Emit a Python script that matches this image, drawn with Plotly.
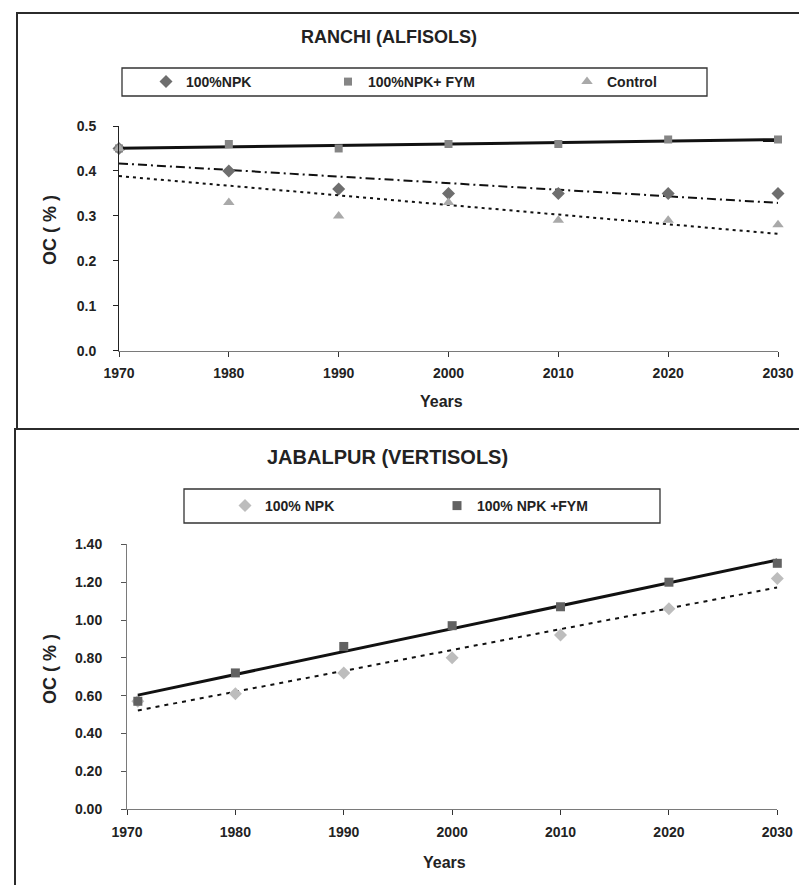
import numpy as np
import plotly.graph_objects as go

W, H = 799, 885

# ---- Ranchi (Alfisols) ----
ranchi_years = [1970, 1980, 1990, 2000, 2010, 2020, 2030]
ranchi_npk = [0.45, 0.40, 0.36, 0.35, 0.35, 0.35, 0.35]
ranchi_npk_fym = [0.45, 0.46, 0.45, 0.46, 0.46, 0.47, 0.47]
ranchi_control = [0.45, 0.33, 0.30, 0.33, 0.29, 0.29, 0.28]
ranchi_yticks = [0.0, 0.1, 0.2, 0.3, 0.4, 0.5]

# ---- Jabalpur (Vertisols) ----
jab_years = [1971, 1980, 1990, 2000, 2010, 2020, 2030]
jab_npk = [0.57, 0.61, 0.72, 0.80, 0.92, 1.06, 1.22]
jab_npk_fym = [0.57, 0.72, 0.86, 0.97, 1.07, 1.20, 1.30]
jab_yticks = [0.0, 0.2, 0.4, 0.6, 0.8, 1.0, 1.2, 1.4]

x_ticks = [1970, 1980, 1990, 2000, 2010, 2020, 2030]

FONT = "Liberation Sans"


def px(x):
    return x / W


def py(y):
    return 1 - y / H


def trend(xs, ys):
    """Least-squares linear trend evaluated at the first and last x."""
    k, b = np.polyfit(xs, ys, 1)
    xe = [xs[0], xs[-1]]
    return xe, [k * v + b for v in xe]


fig = go.Figure()


def add_series(xs, ys, name, symbol, color, size, xa, ya, legend, dash, lw):
    tx, ty = trend(xs, ys)
    fig.add_trace(go.Scatter(
        x=tx, y=ty, mode="lines", line=dict(color="#111111", width=lw, dash=dash),
        xaxis=xa, yaxis=ya, showlegend=False, hoverinfo="skip"))
    fig.add_trace(go.Scatter(
        x=xs, y=ys, mode="markers", name=name,
        marker=dict(symbol=symbol, color=color, size=size, line=dict(width=0)),
        xaxis=xa, yaxis=ya, legend=legend, cliponaxis=False))


# Ranchi panel
add_series(ranchi_years, ranchi_npk, "100%NPK", "diamond", "#6e6e6e", 10,
           "x", "y", "legend", "9px,4px,2px,4px", 2)
add_series(ranchi_years, ranchi_npk_fym, "100%NPK+ FYM", "square", "#858585", 8,
           "x", "y", "legend2", "solid", 3)
add_series(ranchi_years, ranchi_control, "Control", "triangle-up", "#a9a9a9", 10,
           "x", "y", "legend3", "3px,4px", 2)

# Jabalpur panel
add_series(jab_years, jab_npk, "100% NPK", "diamond", "#bdbdbd", 10,
           "x2", "y2", "legend4", "4px,5px", 2)
add_series(jab_years, jab_npk_fym, "100% NPK +FYM", "square", "#626262", 9,
           "x2", "y2", "legend5", "solid", 3)

tickfont = dict(family=FONT, size=14, color="#222222", weight="bold")

axis_common = dict(
    showgrid=False, zeroline=False, ticks="outside", ticklen=5,
    tickfont=tickfont, showline=True, fixedrange=True, automargin=False)

fig.update_layout(
    template="none",
    width=W, height=H,
    margin=dict(l=0, r=0, t=0, b=0, pad=0, autoexpand=False),
    paper_bgcolor="white", plot_bgcolor="white",
    font=dict(family=FONT, color="#222222"),
    xaxis=dict(axis_common, domain=[px(119), px(778)], range=[1970, 2030],
               tickvals=x_ticks, linecolor="#7a7a7a", tickcolor="#333333",
               anchor="y", ticklabelstandoff=4),
    yaxis=dict(axis_common, domain=[py(350.7), py(126)], range=[0, 0.5],
               tickvals=ranchi_yticks, tickformat=".1f", linecolor="#222222",
               tickcolor="#222222", anchor="x", ticklabelstandoff=14),
    xaxis2=dict(axis_common, domain=[px(127), px(777.3)], range=[1970, 2030],
                tickvals=x_ticks, linecolor="#7a7a7a", tickcolor="#333333",
                anchor="y2", ticklabelstandoff=5),
    yaxis2=dict(axis_common, domain=[py(809), py(544.4)], range=[0, 1.4],
                tickvals=jab_yticks, tickformat=".2f", linecolor="#7a7a7a",
                tickcolor="#555555", anchor="x2", ticklabelstandoff=16),
)

# one legend per entry so each key sits at its own place inside the boxes
leg_font = dict(family=FONT, size=14, color="#222222", weight="bold")
legend_pos = {
    "legend": (168, 82),
    "legend2": (350, 82),
    "legend3": (589, 82),
    "legend4": (247, 506),
    "legend5": (459, 506),
}
for key, (cx, cy) in legend_pos.items():
    fig.update_layout({key: dict(
        x=px(cx - 22), y=py(cy), xanchor="left", yanchor="middle",
        bgcolor="rgba(0,0,0,0)", borderwidth=0, font=leg_font,
        itemwidth=30, tracegroupgap=0)})

# frames around each chart and legend boxes
frame = dict(color="#2b2b2b", width=2)
fig.add_shape(type="rect", xref="paper", yref="paper",
              x0=px(17), x1=px(805), y0=py(429), y1=py(13), line=frame)
fig.add_shape(type="rect", xref="paper", yref="paper",
              x0=px(15), x1=px(805), y0=py(895), y1=py(429), line=frame)
legbox = dict(color="#333333", width=1.3)
fig.add_shape(type="rect", xref="paper", yref="paper",
              x0=px(122), x1=px(707), y0=py(96), y1=py(68), line=legbox)
fig.add_shape(type="rect", xref="paper", yref="paper",
              x0=px(184), x1=px(660), y0=py(523), y1=py(489), line=legbox)


def label(text, x, y, size, angle=0):
    fig.add_annotation(text=f"<b>{text}</b>", x=px(x), y=py(y), xref="paper",
                       yref="paper", showarrow=False, textangle=angle,
                       xanchor="center", yanchor="middle",
                       font=dict(family=FONT, size=size, color="#222222"))


label("RANCHI (ALFISOLS)", 389, 37, 18)
label("JABALPUR (VERTISOLS)", 387, 457, 20)
label("Years", 441, 402, 16)
label("Years", 444, 862, 16)
label("OC ( % )", 50, 230, 18, -90)
label("OC ( % )", 50, 669, 18, -90)

fig.write_html("out.html")
